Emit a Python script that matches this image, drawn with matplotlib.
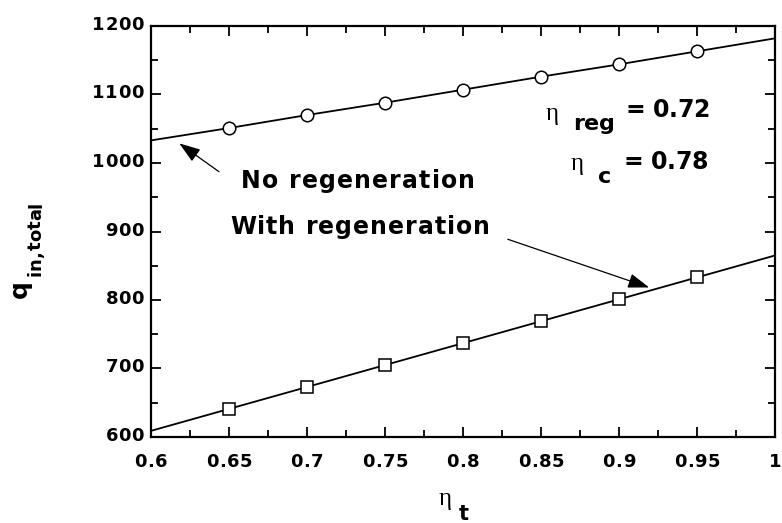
import numpy as np
import matplotlib
matplotlib.use('Agg')
import matplotlib.pyplot as plt
from matplotlib.ticker import MultipleLocator
from matplotlib.transforms import IdentityTransform
from matplotlib.font_manager import FontProperties, findfont, get_font

# turbine efficiency
eta_t = [0.6, 0.65, 0.7, 0.75, 0.8, 0.85, 0.9, 0.95, 1.0]
# total heat input
q_no_regen = [1033, 1051, 1070, 1088, 1107, 1126, 1144, 1163, 1182]
q_regen = [609, 641, 673, 705, 737, 769, 801, 833, 865]

x_ticks = [0.6, 0.65, 0.7, 0.75, 0.8, 0.85, 0.9, 0.95, 1.0]
x_ticklabels = ['0.6', '0.65', '0.7', '0.75', '0.8', '0.85', '0.9', '0.95', '1']
y_ticks = [600, 700, 800, 900, 1000, 1100, 1200]
y_ticklabels = ['600', '700', '800', '900', '1000', '1100', '1200']

SANS = ['DejaVu Sans']
SERIF = ['Liberation Serif', 'DejaVu Serif']
plt.rcParams['font.family'] = SANS

W, H = 782, 523
fig = plt.figure(figsize=(W / 100, H / 100), dpi=100)
ax = fig.add_axes([151 / W, 1 - 437 / H, 624 / W, 411 / H])


def advances(s, size, weight='bold', family=SANS):
    font = get_font(findfont(FontProperties(family=family, weight=weight)))
    font.set_size(size, 100)
    return [font.load_char(ord(c)).linearHoriAdvance / 65536 for c in s]


def tracked(x, y, s, size, track=0.0, width=None, ha='left', rotation=0,
            weight='bold', family=SANS):
    """letter-spaced text, x/y in pixels from the top-left corner"""
    w = advances(s, size, weight, family)
    if width is not None and len(s) > 1:
        track = (width - sum(w)) / (len(s) - 1)
    total = sum(w) + track * (len(s) - 1)
    pos = {'left': 0, 'center': -total / 2, 'right': -total}[ha]
    c, sn = np.cos(np.radians(rotation)), np.sin(np.radians(rotation))
    for ch, cw in zip(s, w):
        fig.text(x + pos * c, H - y + pos * sn, ch, transform=IdentityTransform(),
                 fontsize=size, fontweight=weight, family=family, rotation=rotation,
                 rotation_mode='anchor', ha='left', va='baseline')
        pos += cw + track


def eta(x, y, size=18):
    fig.text(x, H - y, 'η', transform=IdentityTransform(), family=SERIF,
             fontsize=size, va='baseline')


ax.plot(eta_t, q_no_regen, color='black', lw=1.3, marker='o', ms=9,
        mfc='white', mec='black', mew=1.1, markevery=slice(1, -1))
ax.plot(eta_t, q_regen, color='black', lw=1.3, marker='s', ms=8,
        mfc='white', mec='black', mew=1.1, markevery=slice(1, -1))

ax.set_xlim(0.6, 1.0)
ax.set_ylim(600, 1200)
ax.set_xticks(x_ticks)
ax.set_yticks(y_ticks)
ax.xaxis.set_minor_locator(MultipleLocator(0.025))
ax.yaxis.set_minor_locator(MultipleLocator(50))
ax.tick_params(which='both', direction='in', top=True, right=True, width=1.3,
               labelbottom=False, labelleft=False)
ax.tick_params(which='major', length=7.5)
ax.tick_params(which='minor', length=5)
for s in ax.spines.values():
    s.set_linewidth(1.6)

# tick labels, placed by hand to get the wide spacing of the original
for xv, lab in zip(x_ticks, x_ticklabels):
    px = ax.transData.transform((xv, 600))[0]
    tracked(px, 467, lab, 13, 0.5, ha='center')
for yv, lab in zip(y_ticks, y_ticklabels):
    py = H - ax.transData.transform((0.6, yv))[1]
    tracked(144, py + 4, lab, 13, 0.5, ha='right')

# axis labels
eta(439, 505)
tracked(459, 520, 't', 15)
tracked(27, 298, 'q', 18, rotation=90)
tracked(41, 276, 'in,total', 13, width=74, rotation=90)

# annotations
arrow = dict(arrowstyle='-|>,head_length=1.3,head_width=0.45', color='black', lw=0.9)
ax.annotate('', xy=(0.6167, 1031), xytext=(0.645, 985), arrowprops=arrow)
ax.annotate('', xy=(0.921, 817), xytext=(0.827, 890), arrowprops=arrow)
tracked(241, 188, 'No regeneration', 17, width=234)
tracked(230, 234, 'With regeneration', 17, width=260)

eta(546, 120)
tracked(573, 130, 'reg', 16, width=42)
tracked(626, 117, '= 0.72', 17, width=84)
eta(571, 170)
tracked(598, 183, 'c', 16)
tracked(623, 169, '= 0.78', 17, width=85)

plt.savefig('out.png', dpi=100)
plt.close()
